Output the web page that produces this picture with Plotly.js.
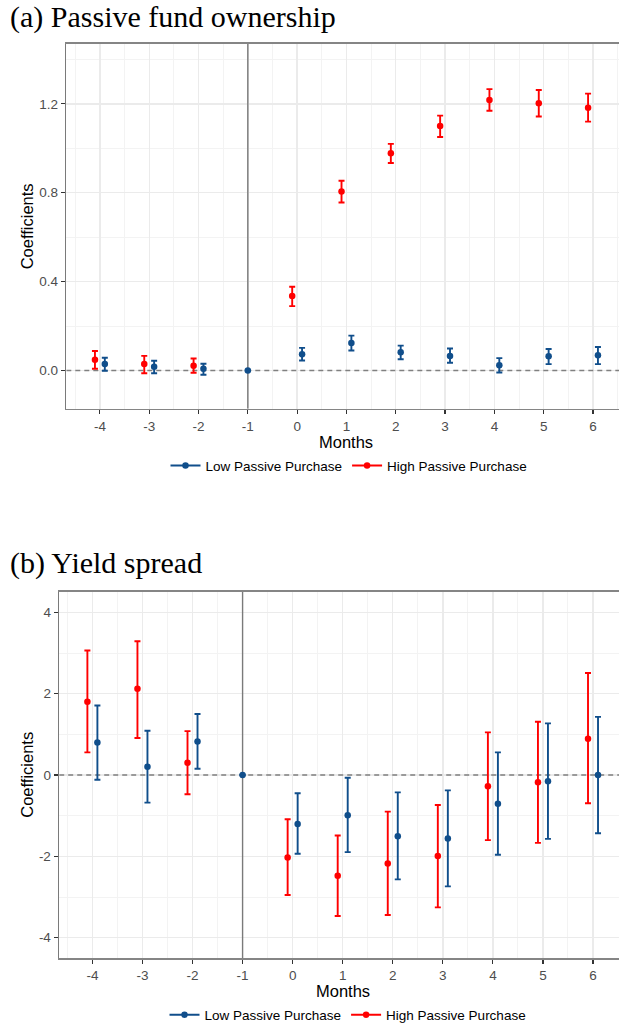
<!DOCTYPE html>
<html>
<head>
<meta charset="utf-8">
<script src="https://cdn.plot.ly/plotly-3.0.1.min.js"></script>
<style>html,body{margin:0;padding:0;background:#fff;}#chart{width:619px;height:1031px;}</style>
</head>
<body>
<div id="chart"></div>
<script>
// ---- data ----
const months = [-4, -3, -2, -1, 0, 1, 2, 3, 4, 5, 6];
const tickLabelsX = ["-4", "-3", "-2", "-1", "0", "1", "2", "3", "4", "5", "6"];
const refMonth = -1;
const refValue = 0;

// Panel (a): Passive fund ownership
const lowA    = [0.029, 0.017, 0.008, 0, 0.073, 0.124, 0.082, 0.066, 0.024, 0.064, 0.069];
const lowA_lo = [-0.001, -0.012, -0.019, 0, 0.045, 0.090, 0.051, 0.035, -0.009, 0.029, 0.029];
const lowA_hi = [0.058, 0.044, 0.031, 0, 0.102, 0.157, 0.112, 0.099, 0.056, 0.097, 0.106];
const highA    = [0.049, 0.029, 0.022, null, 0.335, 0.806, 0.978, 1.100, 1.217, 1.203, 1.182];
const highA_lo = [0.008, -0.012, -0.010, null, 0.290, 0.756, 0.934, 1.051, 1.169, 1.143, 1.120];
const highA_hi = [0.088, 0.066, 0.054, null, 0.377, 0.854, 1.020, 1.147, 1.266, 1.262, 1.246];

// Panel (b): Yield spread
const lowB    = [0.80, 0.204, 0.825, 0, -1.201, -0.989, -1.503, -1.560, -0.703, -0.155, 0.0];
const lowB_lo = [-0.114, -0.678, 0.155, 0, -1.936, -1.895, -2.565, -2.737, -1.961, -1.569, -1.43];
const lowB_hi = [1.71, 1.09, 1.50, 0, -0.449, -0.065, -0.425, -0.376, 0.556, 1.27, 1.43];
const highB    = [1.80, 2.12, 0.302, null, -2.026, -2.475, -2.173, -1.993, -0.278, -0.18, 0.89];
const highB_lo = [0.556, 0.91, -0.474, null, -2.949, -3.464, -3.44, -3.252, -1.601, -1.667, -0.694];
const highB_hi = [3.06, 3.29, 1.08, null, -1.087, -1.487, -0.899, -0.735, 1.05, 1.31, 2.51];

const seriesNames = ["Low Passive Purchase", "High Passive Purchase"];
const yTicksA = [0, 0.4, 0.8, 1.2];
const yTickTextA = ["0.0", "0.4", "0.8", "1.2"];
const yTicksB = [-4, -2, 0, 2, 4];
const yTickTextB = ["-4", "-2", "0", "2", "4"];

// ---- styling ----
const BLUE = "#104E8B", RED = "#FF0000";
const W = 619, H = 1031;
const px = v => v / W;           // x pixel -> paper
const py = v => (H - v) / H;     // y pixel -> paper
const DODGE = 0.1;
const rangeXA = [-4.681, 6.527], rangeYA = [-0.172, 1.471];
const rangeXB = [-4.663, 6.519], rangeYB = [-4.495, 4.51];
const dodgeX = (sign) => months.map(m => m === refMonth ? m : m + sign * DODGE);
const up = (v, hi) => v.map((d, i) => d === null ? null : hi[i] - d);
const dn = (v, lo) => v.map((d, i) => d === null ? null : d - lo[i]);

function pointTrace(xa, ya, x, y, lo, hi, color, name) {
  return {
    type: "scatter", mode: "markers", xaxis: xa, yaxis: ya,
    x: x, y: y, name: name, showlegend: false, hoverinfo: "skip",
    marker: {color: color, size: 6.5},
    error_y: {type: "data", symmetric: false, array: up(y, hi), arrayminus: dn(y, lo),
              color: color, thickness: 1.9, width: 3}
  };
}
function legendTrace(color, name, legend) {
  return {type: "scatter", mode: "lines+markers", x: [null], y: [null], name: name,
          legend: legend, line: {color: color, width: 2}, marker: {color: color, size: 6.5},
          xaxis: "x", yaxis: "y", hoverinfo: "skip"};
}
function refTraces(xa, ya, rx, ry) {
  return [
    {type: "scatter", mode: "lines", xaxis: xa, yaxis: ya, showlegend: false, hoverinfo: "skip",
     x: [refMonth, refMonth], y: ry, line: {color: "#7A7A7A", width: 1.4}},
    {type: "scatter", mode: "lines", xaxis: xa, yaxis: ya, showlegend: false, hoverinfo: "skip",
     x: rx, y: [refValue, refValue], line: {color: "#808080", width: 1.4, dash: "5px,4px"}}
  ];
}

const data = [].concat(
  refTraces("x", "y", rangeXA, rangeYA),
  refTraces("x2", "y2", rangeXB, rangeYB),
  [
    pointTrace("x", "y", dodgeX(-1), highA, highA_lo, highA_hi, RED, seriesNames[1]),
    pointTrace("x", "y", dodgeX(1), lowA, lowA_lo, lowA_hi, BLUE, seriesNames[0]),
    pointTrace("x2", "y2", dodgeX(-1), highB, highB_lo, highB_hi, RED, seriesNames[1]),
    pointTrace("x2", "y2", dodgeX(1), lowB, lowB_lo, lowB_hi, BLUE, seriesNames[0]),
    legendTrace(BLUE, seriesNames[0], "legend"),
    legendTrace(RED, seriesNames[1], "legend"),
    legendTrace(BLUE, seriesNames[0], "legend2"),
    legendTrace(RED, seriesNames[1], "legend2")
  ]
);

const tickFont = {family: "Liberation Sans, Arial, sans-serif", size: 13.5, color: "#4D4D4D"};
function xAxis(domainLeft, range, anchor) {
  return {
    domain: [px(domainLeft), 1], range: range, anchor: anchor,
    tickmode: "array", tickvals: months, ticktext: tickLabelsX,
    ticks: "outside", ticklen: 4, tickwidth: 1.2, tickcolor: "#333333",
    tickfont: tickFont, showgrid: true, gridcolor: "#EBEBEB", gridwidth: 1.4,
    minor: {tickmode: "linear", tick0: -4.5, dtick: 1, showgrid: true, gridcolor: "#F3F3F3", gridwidth: 1, ticks: ""},
    showline: true, linecolor: "#858585", linewidth: 1.6, mirror: true,
    zeroline: false, fixedrange: true
  };
}
function yAxis(domain, range, tv, tt, minorTick0, minorDtick, anchor) {
  return {
    domain: domain, range: range, anchor: anchor,
    tickmode: "array", tickvals: tv, ticktext: tt,
    ticks: "outside", ticklen: 4, tickwidth: 1.2, tickcolor: "#333333",
    tickfont: tickFont, showgrid: true, gridcolor: "#EBEBEB", gridwidth: 1.4,
    minor: {tickmode: "linear", tick0: minorTick0, dtick: minorDtick, showgrid: true, gridcolor: "#F3F3F3", gridwidth: 1, ticks: ""},
    showline: true, linecolor: "#7A7A7A", linewidth: 1.6, mirror: false,
    zeroline: false, fixedrange: true
  };
}

const titleFont = {family: "Liberation Serif, Times New Roman, serif", size: 30, color: "#000"};
const axTitleFont = {family: "Liberation Sans, Arial, sans-serif", size: 16.5, color: "#000"};

const layout = {
  width: W, height: H,
  margin: {l: 0, r: 0, t: 0, b: 0},
  paper_bgcolor: "#fff", plot_bgcolor: "#fff",
  xaxis: xAxis(66.3, rangeXA, "y"),
  yaxis: yAxis([py(410), py(43.7)], rangeYA, yTicksA, yTickTextA, 0.2, 0.4, "x"),
  xaxis2: xAxis(59.2, rangeXB, "y2"),
  yaxis2: yAxis([py(960.7), py(593.3)], rangeYB, yTicksB, yTickTextB, -3, 2, "x2"),
  annotations: [
    {text: "(a) Passive fund ownership", xref: "paper", yref: "paper", x: px(8), y: py(17),
     xanchor: "left", yanchor: "middle", showarrow: false, font: titleFont},
    {text: "(b) Yield spread", xref: "paper", yref: "paper", x: px(8), y: py(565),
     xanchor: "left", yanchor: "middle", showarrow: false, font: titleFont},
    {text: "Coefficients", xref: "paper", yref: "paper", x: px(27), y: py(227), textangle: -90,
     xanchor: "center", yanchor: "middle", showarrow: false, font: axTitleFont},
    {text: "Coefficients", xref: "paper", yref: "paper", x: px(27), y: py(777), textangle: -90,
     xanchor: "center", yanchor: "middle", showarrow: false, font: axTitleFont},
    {text: "Months", xref: "paper", yref: "paper", x: px(346), y: py(443.5),
     xanchor: "center", yanchor: "middle", showarrow: false, font: axTitleFont},
    {text: "Months", xref: "paper", yref: "paper", x: px(343), y: py(994),
     xanchor: "center", yanchor: "middle", showarrow: false, font: axTitleFont}
  ],
  legend: {orientation: "h", x: px(349), xanchor: "center", y: py(467), yanchor: "middle",
           font: {family: "Liberation Sans, Arial, sans-serif", size: 13.5, color: "#000"},
           bgcolor: "rgba(0,0,0,0)", traceorder: "normal"},
  legend2: {orientation: "h", x: px(348), xanchor: "center", y: py(1018), yanchor: "middle",
           font: {family: "Liberation Sans, Arial, sans-serif", size: 13.5, color: "#000"},
           bgcolor: "rgba(0,0,0,0)", traceorder: "normal"},
  showlegend: true
};

Plotly.newPlot("chart", data, layout, {displayModeBar: false, staticPlot: true});
</script>
</body>
</html>
